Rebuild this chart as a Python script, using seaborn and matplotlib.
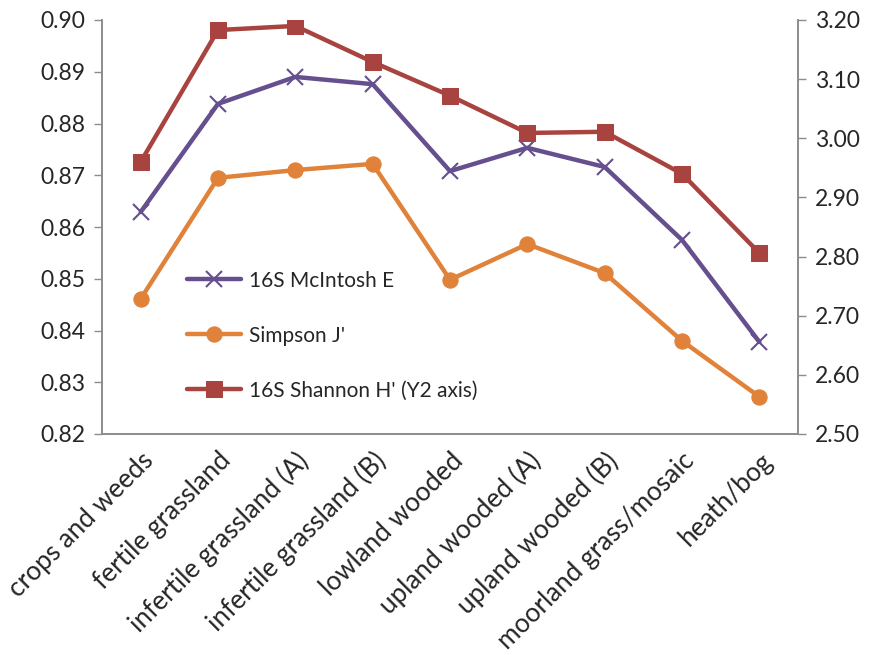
"""
Diversity indices across habitat types (dual y-axis line chart)
"""
import numpy as np
import pandas as pd
import matplotlib
matplotlib.use("Agg")
import matplotlib.pyplot as plt
import seaborn as sns

habitats = ["crops and weeds", "fertile grassland", "infertile grassland (A)",
            "infertile grassland (B)", "lowland wooded", "upland wooded (A)",
            "upland wooded (B)", "moorland grass/mosaic", "heath/bog"]
mcintosh_e = [0.8629, 0.8838, 0.8890, 0.8876, 0.8708, 0.8753, 0.8716, 0.8575, 0.8378]
simpson_j = [0.8461, 0.8695, 0.8710, 0.8722, 0.8498, 0.8567, 0.8511, 0.8380, 0.8272]
shannon_h = [2.960, 3.183, 3.190, 3.129, 3.072, 3.009, 3.011, 2.940, 2.806]

left_ticks = [0.82, 0.83, 0.84, 0.85, 0.86, 0.87, 0.88, 0.89, 0.90]
right_ticks = [2.50, 2.60, 2.70, 2.80, 2.90, 3.00, 3.10, 3.20]

PURPLE = "#664F8E"
ORANGE = "#E0823A"
RED = "#A8433F"
AXIS_GREY = "#8C8C8C"

sns.set_style("white")
plt.rcParams["font.family"] = ["Lato", "DejaVu Sans"]

df = pd.DataFrame({"pos": np.arange(len(habitats)), "habitat": habitats,
                   "mcintosh": mcintosh_e, "simpson": simpson_j, "shannon": shannon_h})

fig = plt.figure(figsize=(8.81, 6.55), dpi=100)
ax = fig.add_axes([102 / 881, 1 - 434 / 655, 696 / 881, 414 / 655])
ax2 = ax.twinx()

sns.lineplot(data=df, x="pos", y="mcintosh", ax=ax, color=PURPLE, linewidth=3.2,
             marker="x", markersize=11, markeredgewidth=1.5, markeredgecolor=PURPLE,
             label="16S McIntosh E", legend=False)
sns.lineplot(data=df, x="pos", y="simpson", ax=ax, color=ORANGE, linewidth=3.2,
             marker="o", markersize=11, markeredgecolor=ORANGE,
             label="Simpson J'", legend=False)
sns.lineplot(data=df, x="pos", y="shannon", ax=ax2, color=RED, linewidth=3.2,
             marker="s", markersize=12, markeredgecolor=RED,
             label="16S Shannon H' (Y2 axis)", legend=False)

ax.set_xlim(-0.5, len(habitats) - 0.5)
ax.set_ylim(0.82, 0.90)
ax2.set_ylim(2.50, 3.20)
ax.set_yticks(left_ticks)
ax.set_yticklabels([f"{v:.2f}" for v in left_ticks])
ax2.set_yticks(right_ticks)
ax2.set_yticklabels([f"{v:.2f}" for v in right_ticks])

# category labels at centres, tick marks at boundaries (Excel style)
ax.set_xticks(df["pos"])
ax.set_xticklabels(habitats, rotation=45, ha="right", rotation_mode="anchor")
ax.set_xticks(np.arange(-0.5, len(habitats)), minor=True)
ax.tick_params(axis="x", which="major", length=0, pad=10, labelsize=18.8)
ax.tick_params(axis="x", which="minor", length=6, width=1, color=AXIS_GREY, direction="out")
ax.tick_params(axis="y", length=6, width=1, color=AXIS_GREY, direction="out", labelsize=16.5, pad=6)
ax2.tick_params(axis="y", length=6, width=1, color=AXIS_GREY, direction="out", labelsize=16.5, pad=6)
ax.set_xlabel("")
ax.set_ylabel("")
ax2.set_ylabel("")

for a in (ax, ax2):
    a.spines["top"].set_visible(False)
    for side in ("left", "right", "bottom"):
        a.spines[side].set_color(AXIS_GREY)
        a.spines[side].set_linewidth(1.2)

h1, l1 = ax.get_legend_handles_labels()
h2, l2 = ax2.get_legend_handles_labels()
ax2.legend(h1 + h2, l1 + l2, loc="lower left", bbox_to_anchor=(0.095, 0.035),
           frameon=False, fontsize=15, handlelength=2.6, labelspacing=1.68,
           handletextpad=0.4)

fig.savefig("out.png", dpi=100)
